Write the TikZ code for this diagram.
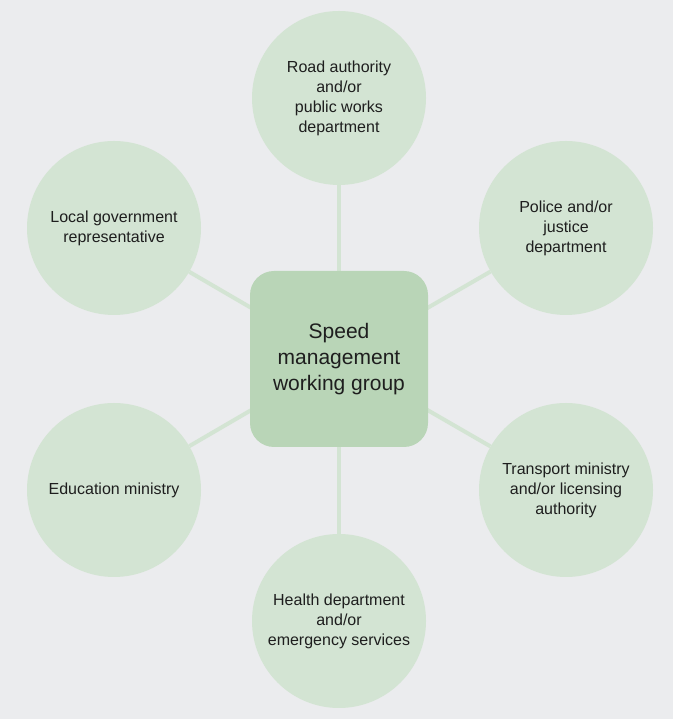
\documentclass[tikz,border=0pt]{standalone}
\usepackage{fontspec}
\setmainfont{Liberation Sans}
\definecolor{bgcol}{HTML}{EBECEE}
\definecolor{circcol}{HTML}{D3E4D3}
\definecolor{groupcol}{HTML}{B9D5B7}
\definecolor{txtcol}{HTML}{1E1E1E}
\begin{document}
\begin{tikzpicture}[x=1pt,y=1pt,
        member/.style={circle, fill=circcol, minimum size=174pt, inner sep=0pt,
            align=center, text=txtcol, font=\fontsize{16}{20}\selectfont},
        group/.style={rectangle, rounded corners=24pt, fill=groupcol, minimum width=178pt,
            minimum height=176pt, align=center, text=txtcol, font=\fontsize{21}{26}\selectfont},
        link/.style={circcol, line width=4pt}]
        % Background
        \fill[bgcol] (0,0) rectangle (673,719);
        \useasboundingbox (0,0) rectangle (673,719);

        % Members around the group
        \node[member] (road) at (339,621) {Road authority\\and/or\\public works\\department};
        \node[member] (police) at (566,491) {Police and/or\\justice\\department};
        \node[member] (local) at (114,491) {Local government\\representative};
        \node[member] (edu) at (114,229) {Education ministry};
        \node[member] (transport) at (566,229) {Transport ministry\\and/or licensing\\authority};
        \node[member] (health) at (339,98) {Health department\\and/or\\emergency services};

        % Centre of the group
        \coordinate (mid) at (339,360);

        % Links to the centre
        \foreach \m in {road,police,local,edu,transport,health} {
            \draw[link] (mid) -- (\m);
        }

        % The working group
        \node[group] (group) at (mid) {Speed\\management\\working group};
    \end{tikzpicture}
\end{document}
